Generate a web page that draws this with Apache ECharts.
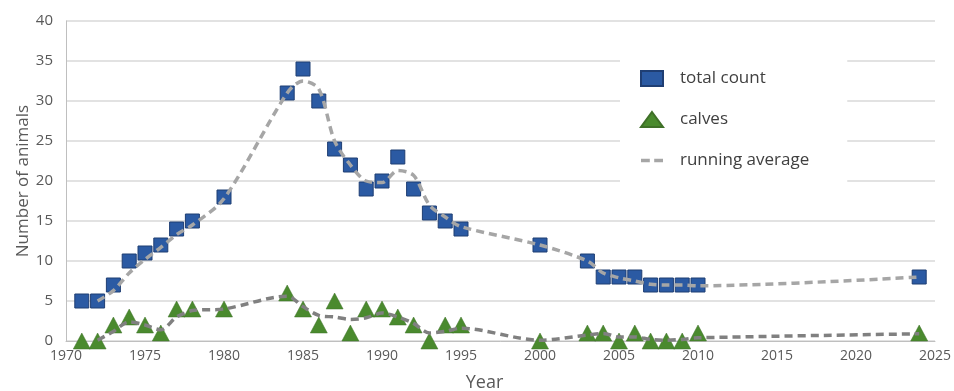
<!DOCTYPE html>
<html>
<head>
<meta charset="utf-8">
<script src="https://cdn.jsdelivr.net/npm/echarts@6/dist/echarts.min.js"></script>
<style>
html,body{margin:0;padding:0;background:#fff;}
#chart{width:954px;height:391px;}
</style>
</head>
<body>
<div id="chart"></div>
<script>
// Survey years and observed values
var years = [1971,1972,1973,1974,1975,1976,1977,1978,1980,1984,1985,1986,1987,1988,1989,1990,1991,1992,1993,1994,1995,2000,2003,2004,2005,2006,2007,2008,2009,2010,2024];
var totalCount = [5,5,7,10,11,12,14,15,18,31,34,30,24,22,19,20,23,19,16,15,14,12,10,8,8,8,7,7,7,7,8];
var calves = [0,0,2,3,2,1,4,4,4,6,4,2,5,1,4,4,3,2,0,2,2,0,1,1,0,1,0,0,0,1,1];

// Running averages
var avgYears = [1972,1973,1974,1975,1976,1977,1978,1980,1984,1985,1986,1987,1988,1989,1990,1991,1992,1993,1994,1995,2000,2003,2004,2005,2006,2007,2008,2009,2010,2024];
var totalAvg = [5,6.3,8.5,10.2,11.7,13.3,14.5,17.8,31,32.5,31.5,25,22,20,19.8,21.3,20.7,17,15.5,14.3,12,10,8.5,7.9,7.5,7.1,7,7,6.9,8];
var calvesAvg = [0.1,1.2,2.4,2,1.4,3,3.8,4,5.6,4.3,3.2,3.0,2.7,2.9,3.5,3.0,2.2,1.0,1.2,1.6,0.1,0.75,0.95,0.5,0.5,0.2,0.1,0.2,0.4,0.9];

var xTicks = [1970,1975,1980,1985,1990,1995,2000,2005,2010,2015,2020,2025];
var yTicks = [0,5,10,15,20,25,30,35,40];

function pairs(xs, ys){ return xs.map(function(x,i){ return [x, ys[i]]; }); }

var FONT = '"Open Sans", "DejaVu Sans", sans-serif';
var chart = echarts.init(document.getElementById('chart'), null, {renderer:'canvas'});
chart.setOption({
  animation:false,
  backgroundColor:'#ffffff',
  textStyle:{fontFamily:FONT},
  grid:{left:66, right:19, top:21, bottom:50, outerBoundsMode:'none', containLabel:false},
  xAxis:{
    type:'value', min:xTicks[0], max:xTicks[xTicks.length-1], interval:5,
    name:'Year', nameLocation:'middle', nameGap:33, nameMoveOverlap:false,
    nameTextStyle:{fontSize:18, color:'#595959', fontFamily:FONT, padding:[0,32,0,0]},
    axisLine:{show:true, lineStyle:{color:'#bfbfbf', width:1}},
    axisTick:{show:false},
    axisLabel:{fontSize:14, color:'#595959', margin:8, fontFamily:FONT,
      formatter:function(v){ return String(v); }},
    splitLine:{show:false}
  },
  yAxis:{
    type:'value', min:yTicks[0], max:yTicks[yTicks.length-1], interval:5,
    name:'Number of animals', nameLocation:'middle', nameGap:34, nameMoveOverlap:false,
    nameTextStyle:{fontSize:17, color:'#595959', fontFamily:FONT},
    axisLine:{show:true, lineStyle:{color:'#bfbfbf', width:1}},
    axisTick:{show:false},
    axisLabel:{fontSize:15, color:'#595959', margin:13, fontFamily:FONT},
    splitLine:{show:true, lineStyle:{color:'#d9d9d9', width:1.5}}
  },
  legend:{
    orient:'vertical', left:620, top:48,
    backgroundColor:'#ffffff',
    padding:[22, 38, 22, 20],
    itemWidth:22, itemHeight:15, itemGap:24,
    textStyle:{fontSize:17, color:'#404040', fontFamily:FONT, padding:[0,0,0,12]},
    data:[
      {name:'total count', icon:'rect'},
      {name:'calves', icon:'triangle'},
      {name:'running average', icon:'path://M0,0h8v3h-8z M12,0h8v3h-8z', itemStyle:{color:'#a6a6a6'}}
    ]
  },
  series:[
    {
      name:'total count', type:'scatter', data:pairs(years,totalCount),
      symbol:'rect', symbolSize:14, z:2,
      itemStyle:{color:'#2B5AA3', borderColor:'#1F3E73', borderWidth:1, opacity:1}
    },
    {
      name:'calves', type:'scatter', data:pairs(years,calves),
      symbol:'triangle', symbolSize:[17,16], z:2,
      itemStyle:{color:'#4A8A2E', borderColor:'#3F7028', borderWidth:0.5, opacity:1}
    },
    {
      name:'running average', type:'line', data:pairs(avgYears,totalAvg),
      showSymbol:false, symbol:'none', smooth:0.3, z:3,
      itemStyle:{color:'#a6a6a6'},
      lineStyle:{color:'#a6a6a6', width:3.5, type:[8,5], cap:'butt'}
    },
    {
      name:'running average', type:'line', data:pairs(avgYears,calvesAvg),
      showSymbol:false, symbol:'none', smooth:0.3, z:3,
      itemStyle:{color:'#808080'},
      lineStyle:{color:'#808080', width:3.5, type:[8,5], cap:'butt'}
    }
  ]
});
</script>
</body>
</html>
